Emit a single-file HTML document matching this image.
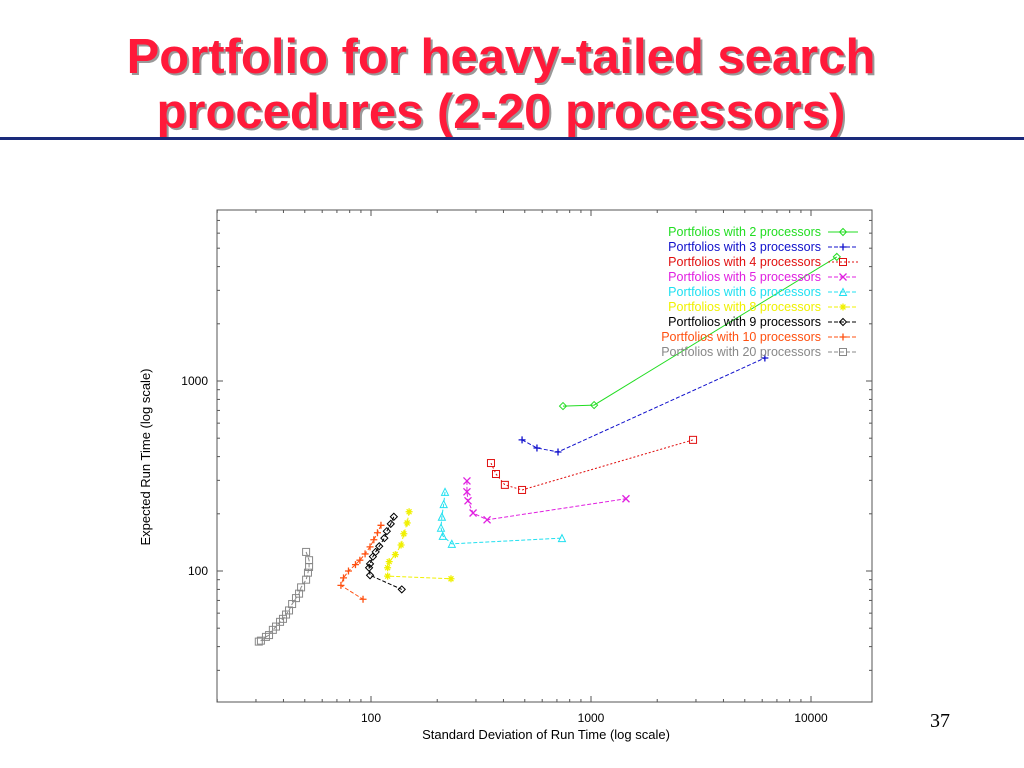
<!DOCTYPE html>
<html><head><meta charset="utf-8"><style>
body{margin:0;width:1024px;height:768px;background:#fff;overflow:hidden;position:relative;font-family:"Liberation Sans",sans-serif}
.title{position:absolute;left:0;width:1002px;top:30px;text-align:center;font-weight:bold;font-size:49px;line-height:55px;color:#ff1a3a;text-shadow:2px 2px 0 #999}
.rule{position:absolute;left:0;top:137px;width:1024px;height:3px;background:#1a2a7a}
.pnum{position:absolute;left:930px;top:710px;font-family:"Liberation Serif",serif;font-size:20px}
</style></head><body>
<div class="title">Portfolio for heavy-tailed search<br>procedures (2-20 processors)</div>
<div class="rule"></div>
<div class="pnum">37</div>
<svg id="chart" width="1024" height="768" style="position:absolute;left:0;top:0" font-family="Liberation Sans, sans-serif"></svg>
<script>
const xTickVals=[100,1000,10000];
const yTickVals=[100,1000];
const seriesNames=["Portfolios with 2 processors","Portfolios with 3 processors","Portfolios with 4 processors","Portfolios with  5 processors","Portfolios with 6 processors","Portfolios with 8 processors","Portfolios with 9  processors","Portfolios with 10 processors","Portfolios with 20 processors"];
const s2x=[746,1033,13100], s2y=[738,747,4500];
const s3x=[486,568,708,6170], s3y=[490,444,423,1322];
const s4x=[351,370,406,486,2910], s4y=[370,324,284,267,490];
const s5x=[273,273,276,291,337,1442], s5y=[298,261,234,202,186,240];
const s6x=[217,214,210,208,212,233,738], s6y=[261,225,193,169,153,139,149];
const s8x=[149,146,141,137,129,121,119,119,231], s8y=[205,179,157,137,122,112,104,94,91];
const s9x=[127,123,118,115,109,105,102,99,98,99,138], s9y=[193,177,162,149,135,126,119,109,104,95,80];
const s10x=[111,107,103,99,94,89,85,79,75,73,92], s10y=[174,159,146,134,123,114,108,100,92,84,71];
const s20x=[50.7,52.3,52.3,51.7,50.7,48.1,47.1,45.6,43.8,42.4,41.1,39.8,38.6,37.0,35.8,34.4,33.3,31.6,30.9];
const s20y=[126,114,105,98,90,82,76,72,67,62,59,56,54,51,49,46,45,43,42.5];
const colors=["#22dd22","#1010cc","#e01010","#e020e0","#20e0f0","#f0f000","#000","#ff5010","#888"];
const markers=["diamond","plus","square","x","tri","star","diamond","plus","square"];
const dashes=["","4,2","2,2","4,2","4,2","4,2","4,2","4,2","4,2"];
const X=[s2x,s3x,s4x,s5x,s6x,s8x,s9x,s10x,s20x], Y=[s2y,s3y,s4y,s5y,s6y,s8y,s9y,s10y,s20y];
const L=217,R=872,T=210,B=702;
const xs=v=>371+(Math.log10(v)-2)*220;
const ys=v=>381-(Math.log10(v)-3)*190;
const svg=document.getElementById('chart');const NS='http://www.w3.org/2000/svg';
function mk(t,a,p){const e=document.createElementNS(NS,t);for(const k in a)e.setAttribute(k,a[k]);(p||svg).appendChild(e);return e;}
let r=mk('rect',{x:L,y:T,width:R-L,height:B-T,fill:'none',stroke:'#555','stroke-width':1});


for(let d=10;d<=10000;d*=10)for(let m=1;m<10;m++){const v=d*m;const px=xs(v);if(px<L||px>R)continue;const len=m==1?6:3;
 mk('line',{x1:px,y1:B,x2:px,y2:B-len,stroke:'#555'});mk('line',{x1:px,y1:T,x2:px,y2:T+len,stroke:'#555'});}
for(let d=10;d<=10000;d*=10)for(let m=1;m<10;m++){const v=d*m;const py=ys(v);if(py<T||py>B)continue;const len=m==1?6:3;
 mk('line',{x1:L,y1:py,x2:L+len,y2:py,stroke:'#555'});mk('line',{x1:R,y1:py,x2:R-len,y2:py,stroke:'#555'});}
xTickVals.forEach(v=>{const t=mk('text',{x:xs(v),y:722,'text-anchor':'middle','font-size':12});t.textContent=v;

});
yTickVals.forEach(v=>{const t=mk('text',{x:208,y:ys(v)+4,'text-anchor':'end','font-size':12});t.textContent=v;

});
let xt=mk('text',{x:546,y:739,'text-anchor':'middle','font-size':13});xt.textContent='Standard Deviation of Run Time (log scale)';


let yt=mk('text',{x:150,y:457,'text-anchor':'middle','font-size':13,transform:'rotate(-90 150 457)'});yt.textContent='Expected Run Time (log scale)';


function marker(type,x,y,c,g){const s=3.5;
 if(type=='diamond')mk('path',{d:`M${x-s} ${y}L${x} ${y-s}L${x+s} ${y}L${x} ${y+s}Z`,fill:'none',stroke:c},g);
 else if(type=='plus')mk('path',{d:`M${x-s} ${y}H${x+s}M${x} ${y-s}V${y+s}`,stroke:c,'stroke-width':1.3},g);
 else if(type=='square')mk('rect',{x:x-s,y:y-s,width:2*s,height:2*s,fill:'none',stroke:c},g);
 else if(type=='x')mk('path',{d:`M${x-s} ${y-s}L${x+s} ${y+s}M${x-s} ${y+s}L${x+s} ${y-s}`,stroke:c,'stroke-width':1.3},g);
 else if(type=='tri')mk('path',{d:`M${x-s} ${y+s}L${x} ${y-s}L${x+s} ${y+s}Z`,fill:'none',stroke:c},g);
 else mk('path',{d:`M${x-s} ${y}H${x+s}M${x} ${y-s}V${y+s}M${x-s*.7} ${y-s*.7}L${x+s*.7} ${y+s*.7}M${x-s*.7} ${y+s*.7}L${x+s*.7} ${y-s*.7}`,stroke:c,'stroke-width':1.3},g);}
X.forEach((xa,i)=>{const g=mk('g',{});
 
 
 const pts=xa.map((v,j)=>xs(v)+','+ys(Y[i][j])).join(' ');
 mk('polyline',{points:pts,fill:'none',stroke:colors[i],'stroke-width':1,'stroke-dasharray':dashes[i]},g);
 xa.forEach((v,j)=>marker(markers[i],xs(v),ys(Y[i][j]),colors[i],g));
 const ly=236+i*15;
 const lg=mk('g',{});
 
 
 const t=mk('text',{x:821,y:ly,'text-anchor':'end','font-size':12.5,fill:colors[i]},lg);t.textContent=seriesNames[i];
 mk('line',{x1:828,y1:ly-4,x2:858,y2:ly-4,stroke:colors[i],'stroke-dasharray':dashes[i]},lg);
 marker(markers[i],843,ly-4,colors[i],lg);
});
</script>
</body></html>
